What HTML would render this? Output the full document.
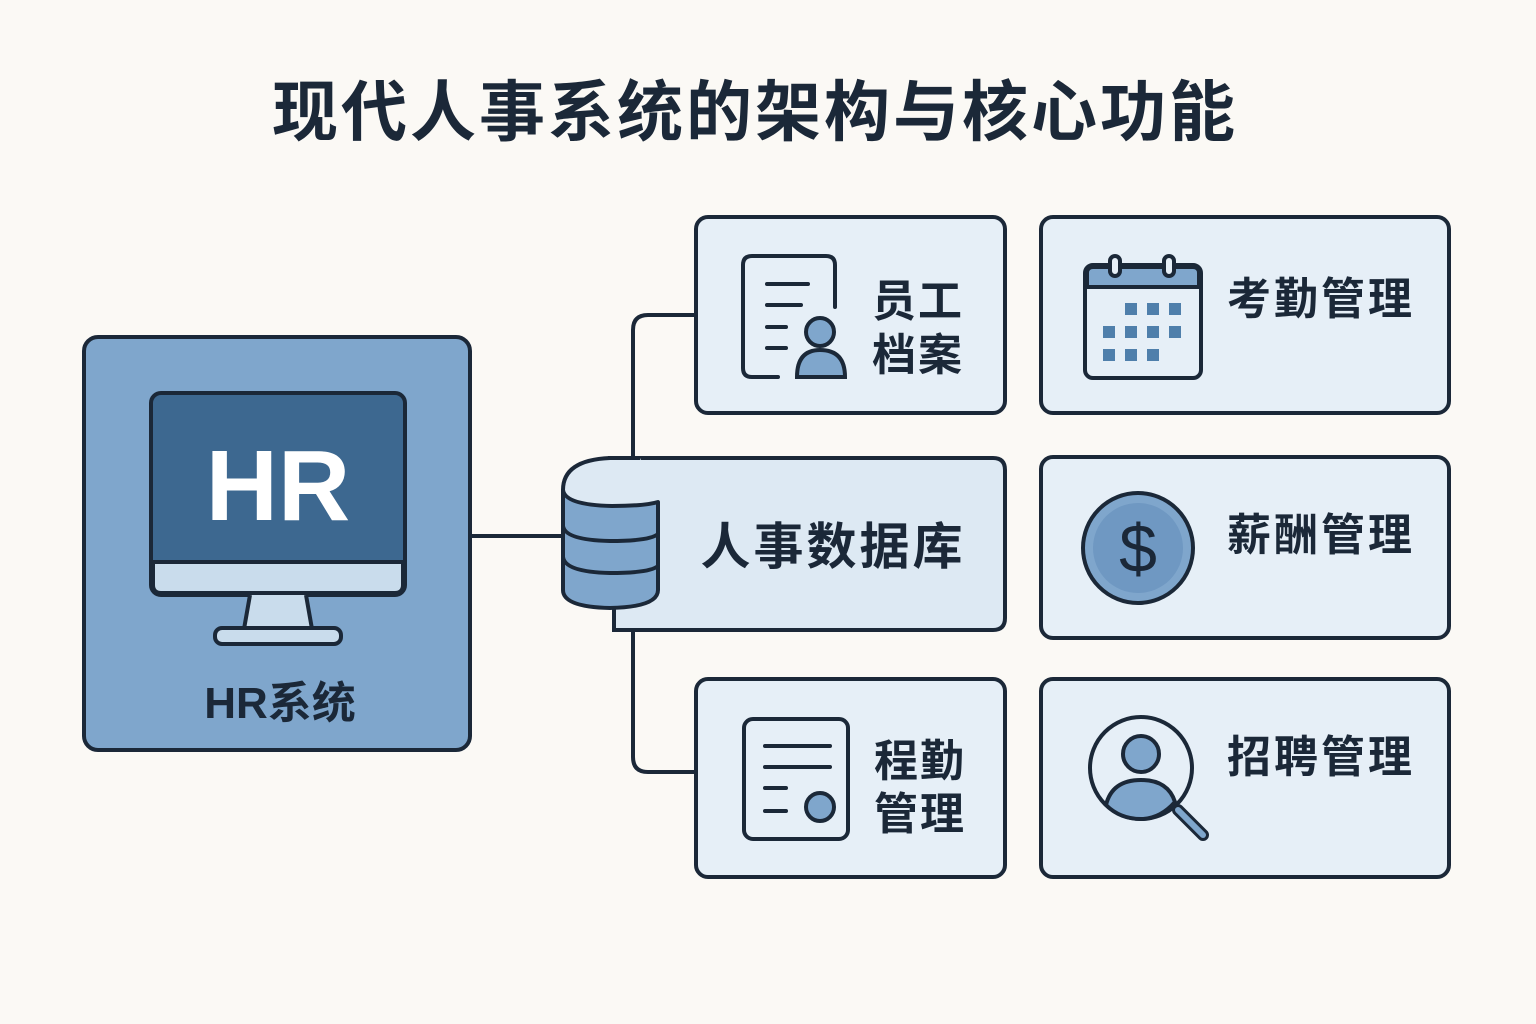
<!DOCTYPE html>
<html><head><meta charset="utf-8"><style>
html,body{margin:0;padding:0;background:#fbf9f5;}
svg{display:block}
text{font-family:"Liberation Sans","Noto Sans CJK SC",sans-serif;fill:#1b2838;font-weight:bold}
</style></head><body>
<svg width="1536" height="1024" viewBox="0 0 1536 1024">
<rect width="1536" height="1024" fill="#fbf9f5"/>
<text x="755" y="135" font-size="66" text-anchor="middle" letter-spacing="3">现代人事系统的架构与核心功能</text>

<g stroke="#1b2838" stroke-width="4" fill="none" stroke-linecap="round" stroke-linejoin="round">
<line x1="470" y1="536" x2="566" y2="536"/>
<path d="M633 460 V330 Q633 315 648 315 H696"/>
<path d="M633 630 V757 Q633 772 648 772 H696"/>
</g>

<!-- HR box -->
<rect x="84" y="337" width="386" height="413" rx="14" fill="#7fa6cc" stroke="#1b2838" stroke-width="4"/>
<rect x="151" y="393" width="254" height="202" rx="10" fill="#3d6890" stroke="#1b2838" stroke-width="4"/>
<path d="M153 562 H403 V585 Q403 593 395 593 H161 Q153 593 153 585 Z" fill="#c9dcec" stroke="#1b2838" stroke-width="4"/>
<path d="M250 595 L244 629 H312 L306 595" fill="#c9dcec" stroke="#1b2838" stroke-width="4"/>
<rect x="215" y="628" width="126" height="16" rx="7" fill="#c9dcec" stroke="#1b2838" stroke-width="4"/>
<text x="278" y="520" font-size="100" text-anchor="middle" style="fill:#fff">HR</text>
<text x="280" y="718" font-size="44" text-anchor="middle">HR系统</text>

<!-- DB box -->
<path d="M610 458 H993 Q1005 458 1005 470 V618 Q1005 630 993 630 H614 V600 H610 Z" fill="#dde9f3" stroke="#1b2838" stroke-width="4"/>
<g stroke="#1b2838" stroke-width="4" stroke-linejoin="round">
<path d="M563 490 Q563 460 610 458 H640 L658 502 Q645 506 612 506 Q565 505 563 490 Z" fill="#dde9f3" stroke="none"/>
<path d="M563 490 Q563 460 610 458 H640" fill="none"/>
<path d="M563 490 Q565 505 612 506 Q645 506 658 502 V590 Q658 607 610 608 Q563 607 563 590 Z" fill="#7fa6cc"/>
<path d="M563 526 Q565 540 610 541 Q650 541 658 534" fill="none"/>
<path d="M563 557 Q565 572 610 573 Q650 573 658 566" fill="none"/>
</g>
<text x="833" y="564" font-size="50" text-anchor="middle" letter-spacing="3">人事数据库</text>

<!-- cards -->
<g fill="#e6eff7" stroke="#1b2838" stroke-width="4">
<rect x="696" y="217" width="309" height="196" rx="12"/>
<rect x="1041" y="217" width="408" height="196" rx="12"/>
<rect x="1041" y="457" width="408" height="181" rx="12"/>
<rect x="696" y="679" width="309" height="198" rx="12"/>
<rect x="1041" y="679" width="408" height="198" rx="12"/>
</g>

<!-- card1 icon -->
<g stroke="#1b2838" stroke-width="4" fill="none" stroke-linecap="round">
<path d="M835 307 V265 Q835 256 826 256 H752 Q743 256 743 265 V368 Q743 377 752 377 H778"/>
<line x1="767" y1="284" x2="808" y2="284"/>
<line x1="767" y1="305" x2="801" y2="305"/>
<line x1="767" y1="327" x2="786" y2="327"/>
<line x1="767" y1="348" x2="786" y2="348"/>
<circle cx="820" cy="332" r="14" fill="#7fa6cc"/>
<path d="M797 377 Q797 350 820 350 Q845 350 845 377 Z" fill="#7fa6cc"/>
</g>
<text x="918" y="316" font-size="44" text-anchor="middle" letter-spacing="2">员工</text>
<text x="918" y="370" font-size="44" text-anchor="middle" letter-spacing="2">档案</text>

<!-- calendar -->
<g stroke="#1b2838" stroke-width="4">
<rect x="1085" y="265" width="116" height="113" rx="8" fill="#e6eff7"/>
<path d="M1087 287 V273 Q1087 267 1093 267 H1193 Q1199 267 1199 273 V287 Z" fill="#7fa6cc"/>
<rect x="1110" y="256" width="10" height="20" rx="5" fill="#e6eff7"/>
<rect x="1164" y="256" width="10" height="20" rx="5" fill="#e6eff7"/>
</g>
<g fill="#4f7fab">
<rect x="1125" y="303" width="12" height="12"/><rect x="1147" y="303" width="12" height="12"/><rect x="1169" y="303" width="12" height="12"/>
<rect x="1103" y="326" width="12" height="12"/><rect x="1125" y="326" width="12" height="12"/><rect x="1147" y="326" width="12" height="12"/><rect x="1169" y="326" width="12" height="12"/>
<rect x="1103" y="349" width="12" height="12"/><rect x="1125" y="349" width="12" height="12"/><rect x="1147" y="349" width="12" height="12"/>
</g>
<text x="1321" y="314" font-size="44" text-anchor="middle" letter-spacing="3">考勤管理</text>

<!-- coin -->
<circle cx="1138" cy="548" r="55" fill="#7fa6cc" stroke="#1b2838" stroke-width="4"/>
<circle cx="1138" cy="548" r="45" fill="#6f98c2"/>
<text x="1138" y="572" font-size="68" text-anchor="middle" style="font-weight:normal">$</text>
<text x="1321" y="550" font-size="44" text-anchor="middle" letter-spacing="3">薪酬管理</text>

<!-- card row3 col1 -->
<g stroke="#1b2838" stroke-width="4" fill="none" stroke-linecap="round">
<rect x="744" y="719" width="104" height="120" rx="9"/>
<line x1="765" y1="746" x2="830" y2="746"/>
<line x1="765" y1="767" x2="830" y2="767"/>
<line x1="765" y1="788" x2="786" y2="788"/>
<line x1="765" y1="811" x2="786" y2="811"/>
<circle cx="820" cy="807" r="14" fill="#7fa6cc"/>
</g>
<text x="920" y="776" font-size="44" text-anchor="middle" letter-spacing="2">程勤</text>
<text x="920" y="829" font-size="44" text-anchor="middle" letter-spacing="2">管理</text>

<!-- search -->
<g stroke="#1b2838" stroke-width="4">
<line x1="1178" y1="810" x2="1203" y2="835" stroke-width="12" stroke-linecap="round"/>
<line x1="1178" y1="810" x2="1203" y2="835" stroke="#7fa6cc" stroke-width="6" stroke-linecap="round"/>
<circle cx="1141" cy="768" r="51" fill="#e6eff7"/>
<circle cx="1141" cy="754" r="18" fill="#7fa6cc"/>
<path d="M1106 805 Q1112 780 1141 780 Q1168 780 1175 802 Q1160 819 1141 819 Q1120 819 1106 805 Z" fill="#7fa6cc"/>
</g>
<text x="1321" y="772" font-size="44" text-anchor="middle" letter-spacing="3">招聘管理</text>
</svg>
</body></html>
